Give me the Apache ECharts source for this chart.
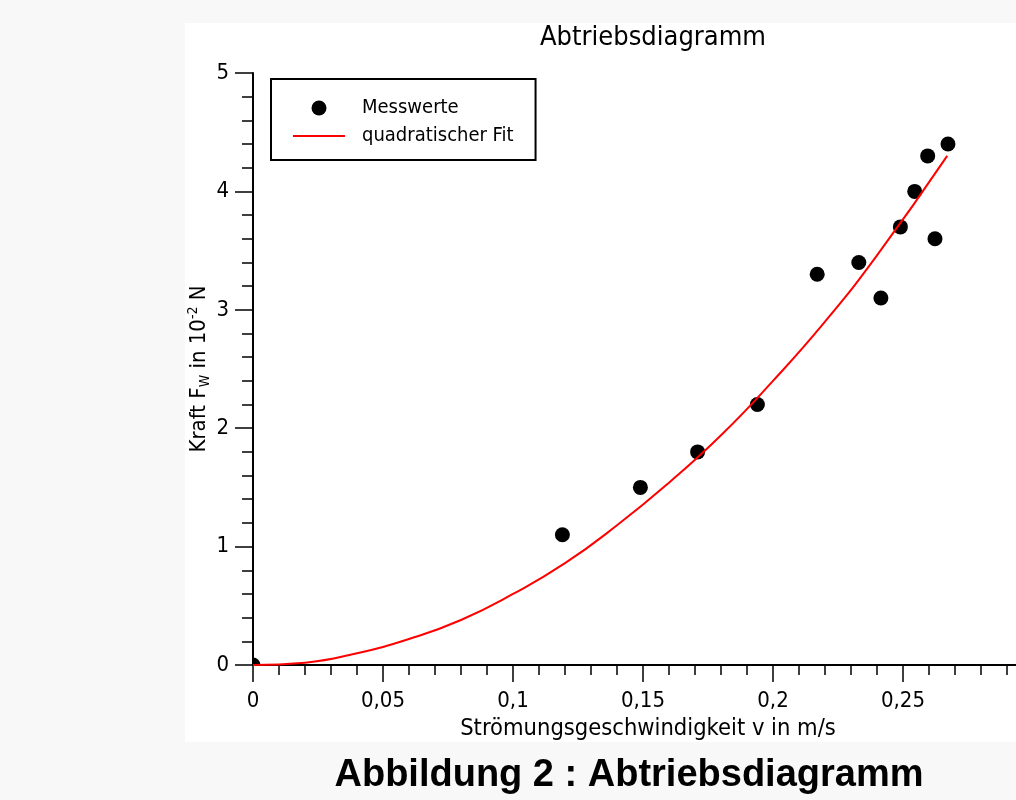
<!DOCTYPE html>
<html>
<head>
<meta charset="utf-8">
<script src="https://cdn.jsdelivr.net/npm/echarts@6/dist/echarts.min.js"></script>
<style>
  html, body { margin: 0; padding: 0; background: #f8f8f8; }
  #chart { width: 1016px; height: 800px; }
</style>
</head>
<body>
<div id="chart"></div>
<script>
// Messwerte (Strömungsgeschwindigkeit v in m/s, Kraft in 10^-2 N)
const messV = [0, 0.119, 0.149, 0.171, 0.194, 0.217, 0.233, 0.2415, 0.249, 0.2545, 0.2595, 0.2623, 0.2673];
const messF = [0, 1.1, 1.5, 1.8, 2.2, 3.3, 3.4, 3.1, 3.7, 4.0, 4.3, 3.6, 4.4];
// quadratischer Fit
const fitV = [0, 0.02, 0.04, 0.06, 0.08, 0.10, 0.12, 0.14, 0.16, 0.18, 0.20, 0.22, 0.24, 0.267];
const fitF = [0, 0.02, 0.1, 0.22, 0.38, 0.6, 0.86, 1.18, 1.54, 1.94, 2.4, 2.9, 3.46, 4.3];
const xTicks = { min: 0, max: 0.3, interval: 0.05 };
const yTicks = { min: 0, max: 5, interval: 1 };

const FONT = '"DejaVu Sans Condensed", "DejaVu Sans", sans-serif';
const chart = echarts.init(document.getElementById('chart'));

const option = {
  backgroundColor: '#f8f8f8',
  animation: false,
  graphic: [
    { type: 'rect', z: -10, silent: true, shape: { x: 185, y: 23, width: 831, height: 719 }, style: { fill: '#ffffff' } },
    { type: 'text', x: 653, y: 38, style: { text: 'Abtriebsdiagramm', font: '27px ' + FONT, fill: '#000', textAlign: 'center', textVerticalAlign: 'middle' } },
    { type: 'text', x: 629, y: 776, style: { text: 'Abbildung 2 : Abtriebsdiagramm', font: 'bold 38px "Liberation Sans", Arial, sans-serif', fill: '#000', textAlign: 'center', textVerticalAlign: 'middle' } }
  ],
  legend: {
    left: 271, top: 79, orient: 'vertical',
    padding: [19, 22, 14, 22],
    borderColor: '#000', borderWidth: 2,
    itemWidth: 52, itemHeight: 15, itemGap: 8,
    selectedMode: false,
    textStyle: { fontFamily: FONT, fontSize: 20, color: '#000', padding: [0, 0, 0, 12] },
    data: [
      { name: 'Messwerte', icon: 'circle' },
      { name: 'quadratischer Fit', icon: 'path://M0,0H52V2H0Z' }
    ]
  },
  grid: { left: 253, top: 73, right: -17, bottom: 135, outerBoundsMode: 'none', containLabel: false },
  xAxis: {
    type: 'value', min: xTicks.min, max: xTicks.max, interval: xTicks.interval,
    name: 'Strömungsgeschwindigkeit v in m/s', nameLocation: 'middle', nameGap: 52,
    nameMoveOverlap: false,
    nameTextStyle: { fontFamily: FONT, fontSize: 23.5, color: '#000', padding: [0, 0, 0, 10] },
    axisLine: { lineStyle: { color: '#000', width: 2 } },
    axisTick: { length: 17, lineStyle: { color: '#000', width: 1.5 } },
    minorTick: { show: true, splitNumber: 5, length: 10, lineStyle: { color: '#000', width: 1.5 } },
    splitLine: { show: false },
    axisLabel: { fontFamily: FONT, fontSize: 22, color: '#000', margin: 25,
      formatter: v => String(+v.toFixed(4)).replace('.', ',') }
  },
  yAxis: {
    type: 'value', min: yTicks.min, max: yTicks.max, interval: yTicks.interval,
    name: 'Kraft F{sub|W} in 10{sup|-2} N', nameLocation: 'middle', nameGap: 41,
    nameMoveOverlap: false,
    nameTextStyle: { fontFamily: FONT, fontSize: 22, color: '#000', lineHeight: 26,
      rich: {
        sub: { fontFamily: FONT, fontSize: 14, color: '#000', lineHeight: 14, verticalAlign: 'bottom' },
        sup: { fontFamily: FONT, fontSize: 14, color: '#000', lineHeight: 14, verticalAlign: 'top' }
      } },
    axisLine: { lineStyle: { color: '#000', width: 2 } },
    axisTick: { length: 18, lineStyle: { color: '#000', width: 1.5 } },
    minorTick: { show: true, splitNumber: 5, length: 11, lineStyle: { color: '#000', width: 1.5 } },
    splitLine: { show: false },
    axisLabel: { fontFamily: FONT, fontSize: 22, color: '#000', margin: 24 }
  },
  series: [
    {
      name: 'Messwerte', type: 'custom', z: 2, clip: true,
      itemStyle: { color: '#000' },
      data: messV.map((v, i) => [v, messF[i]]),
      encode: { x: 0, y: 1 },
      renderItem: (params, api) => {
        const p = api.coord([api.value(0), api.value(1)]);
        return { type: 'circle', shape: { cx: p[0], cy: p[1], r: 7.5 }, style: { fill: '#000' } };
      }
    },
    {
      name: 'quadratischer Fit', type: 'line', z: 3, smooth: true,
      symbol: 'none', showSymbol: false, clip: true,
      lineStyle: { color: '#ff0000', width: 2 },
      itemStyle: { color: '#ff0000' },
      data: fitV.map((v, i) => [v, fitF[i]])
    }
  ]
};
chart.setOption(option);
</script>
</body>
</html>
